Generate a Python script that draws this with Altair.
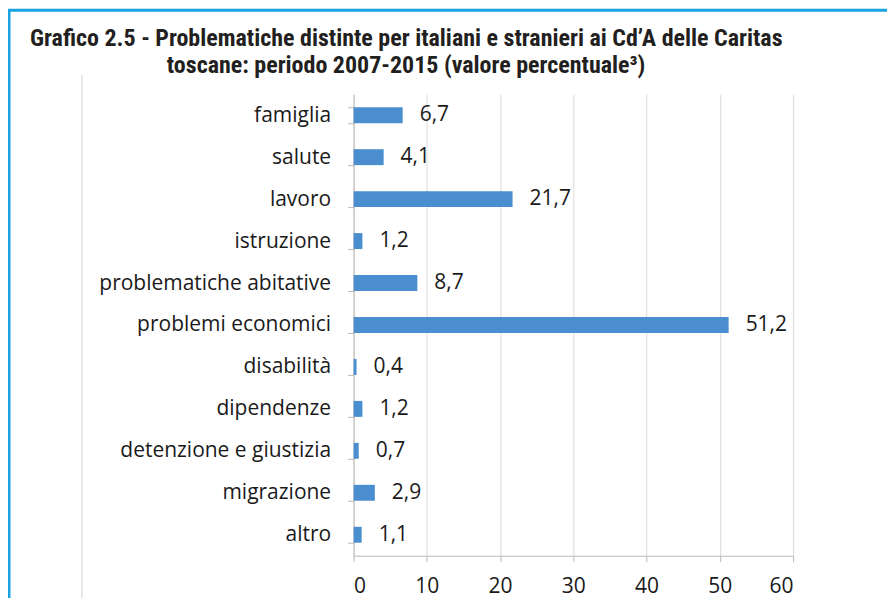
import altair as alt
import pandas as pd

categories = ["famiglia", "salute", "lavoro", "istruzione", "problematiche abitative",
              "problemi economici", "disabilità", "dipendenze", "detenzione e giustizia",
              "migrazione", "altro"]
values = [6.7, 4.1, 21.7, 1.2, 8.7, 51.2, 0.4, 1.2, 0.7, 2.9, 1.1]
labels = ["6,7", "4,1", "21,7", "1,2", "8,7", "51,2", "0,4", "1,2", "0,7", "2,9", "1,1"]
x_ticks = [0, 10, 20, 30, 40, 50, 60]

title1 = "Grafico 2.5 - Problematiche distinte per italiani e stranieri ai Cd’A delle Caritas"
title2 = "toscane: periodo 2007-2015 (valore percentuale³)"

df = pd.DataFrame({"cat": categories, "val": values, "lab": labels})
one = pd.DataFrame({"d": [0]})

LABEL_FONT = "Open Sans"
TITLE_FONT = "Roboto Condensed, Roboto"

y_enc = alt.Y("cat:N", sort=categories, title=None,
              scale=alt.Scale(paddingInner=0.62, paddingOuter=0.31),
              axis=alt.Axis(tickBand="extent", domainColor="#bdb8b4", tickColor="#bdb8b4",
                            tickSize=6, labelPadding=17, labelFont=LABEL_FONT,
                            labelFontSize=21, labelColor="#1a1a1a", labelLimit=0, grid=False))
x_enc = alt.X("val:Q", title=None,
              scale=alt.Scale(domain=[0, 60], nice=False),
              axis=alt.Axis(values=x_ticks, grid=True, gridColor="#ddd9d5",
                            domainColor="#bdb8b4", tickColor="#bdb8b4", tickSize=6,
                            labelPadding=14, labelFont=LABEL_FONT, labelFontSize=21,
                            labelColor="#1a1a1a"))

bars = alt.Chart(df).mark_bar(color="#4a8ed0").encode(x=x_enc, y=y_enc)
texts = alt.Chart(df).mark_text(align="left", baseline="middle", dx=17,
                                font=LABEL_FONT, fontSize=21, color="#1a1a1a").encode(
    x="val:Q", y=alt.Y("cat:N", sort=categories), text="lab:N")

border_top = alt.Chart(one).mark_rule(color="#1aa3e0", strokeWidth=3).encode(
    x=alt.value(-346), x2=alt.value(540), y=alt.value(-84))
border_left = alt.Chart(one).mark_rule(color="#1aa3e0", strokeWidth=3).encode(
    x=alt.value(-345), y=alt.value(-84), y2=alt.value(520))
inner_left = alt.Chart(one).mark_rule(color="#e4e0dc", strokeWidth=1.5).encode(
    x=alt.value(-272), y=alt.value(-19), y2=alt.value(520))

t1 = alt.Chart(one).mark_text(align="left", baseline="alphabetic", font=TITLE_FONT,
                              fontSize=24, fontWeight="bold", color="#231f20").encode(
    x=alt.value(-324), y=alt.value(-48), text=alt.value(title1))
t2 = alt.Chart(one).mark_text(align="left", baseline="alphabetic", font=TITLE_FONT,
                              fontSize=24, fontWeight="bold", color="#231f20").encode(
    x=alt.value(-187), y=alt.value(-21), text=alt.value(title2))

chart = alt.layer(inner_left, bars, texts, border_top, border_left, t1, t2).properties(
    width=440, height=462,
    autosize=alt.AutoSizeParams(type="none"),
    padding={"left": 346, "top": 86, "right": 94, "bottom": 42},
    background="white",
).configure_view(stroke=None)

chart.save("out.html", embed_options={"renderer": "svg", "actions": False})
